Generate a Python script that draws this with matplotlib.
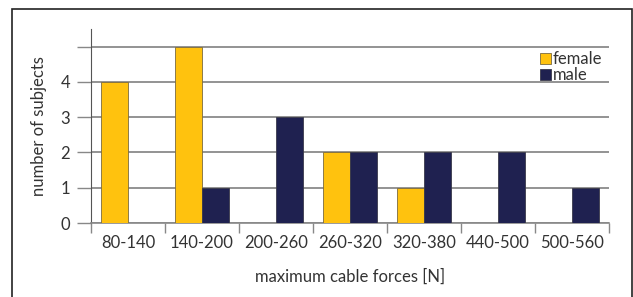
import matplotlib
matplotlib.use("Agg")
import matplotlib.pyplot as plt
import numpy as np
from matplotlib.patches import Rectangle

categories = ["80-140", "140-200", "200-260", "260-320", "320-380", "440-500", "500-560"]
female = [4, 5, 0, 2, 1, 0, 0]
male = [0, 1, 3, 2, 2, 2, 1]

plt.rcParams['font.family'] = ['Lato', 'DejaVu Sans']

fig = plt.figure(figsize=(6.33, 2.97), dpi=100)
ax = fig.add_axes([91 / 633, 1 - 223 / 297, 518 / 633, 194 / 297])

x = np.arange(len(categories))
w = 0.365
ax.bar(x - w / 2, female, w, color="#FFC20E", edgecolor="#7a6a40", linewidth=0.6, label="female", zorder=3)
ax.bar(x + w / 2, male, w, color="#1F2150", edgecolor="#3a3a4a", linewidth=0.6, label="male", zorder=3)

ax.set_xlim(-0.5, len(categories) - 0.5)
ax.set_ylim(0, 5.5)
ax.set_yticks([0, 1, 2, 3, 4, 5])
ax.set_yticklabels(["0", "1", "2", "3", "4", ""])
ax.set_xticks(x)
ax.set_xticklabels(categories)
ax.tick_params(axis="x", length=0, pad=9, labelsize=12, labelcolor="#333333")
ax.tick_params(axis="y", length=10, width=1, color="#888888", pad=5, labelsize=12, labelcolor="#333333")
ax.set_xticks(np.arange(len(categories) + 1) - 0.5, minor=True)
ax.tick_params(axis="x", which="minor", length=7, width=1, color="#888888", direction="out")

ax.yaxis.grid(True, color="#808080", linewidth=1.2, zorder=0)
for s in ["top", "right"]:
    ax.spines[s].set_visible(False)
ax.spines["left"].set_color("#555555")
ax.spines["bottom"].set_color("#888888")
ax.spines["bottom"].set_linewidth(1.2)

ax.set_xlabel("maximum cable forces [N]", fontsize=12, color="#333333", labelpad=12)
ax.set_ylabel("number of subjects", fontsize=12, color="#333333", labelpad=10)

leg = ax.legend(loc="upper right", bbox_to_anchor=(1.0, 0.92), frameon=False, fontsize=12,
                handlelength=0.7, handleheight=0.7, handletextpad=0.1, labelspacing=0.0,
                borderaxespad=0.0, labelcolor="#333333")

fig.patches.append(Rectangle((12 / 633, -0.1), 620 / 633, 1.1 - 9 / 297, transform=fig.transFigure,
                             fill=False, edgecolor="#222222", linewidth=1.2))

fig.savefig("out.png", dpi=100)
